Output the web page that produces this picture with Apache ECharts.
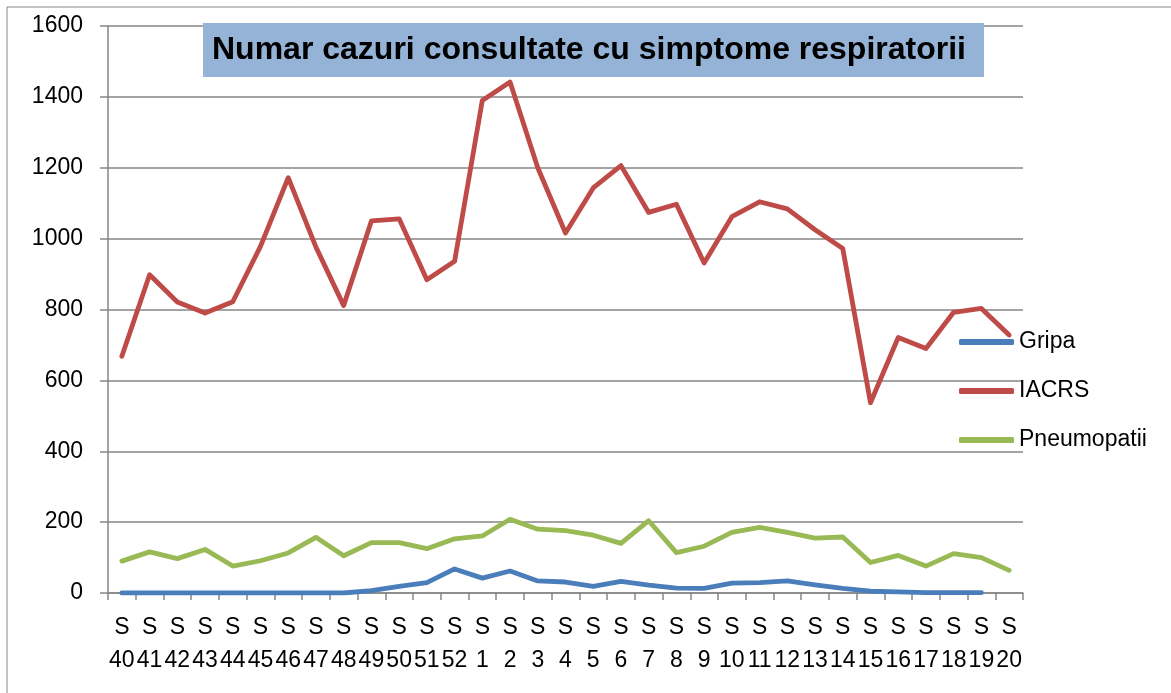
<!DOCTYPE html>
<html style="height: 100%">
<head>
    <meta charset="utf-8">
</head>
<body style="height: 100%; margin: 0; background: #fff">
<div id="container" style="width: 1171px; height: 693px"></div>

<script type="text/javascript" src="https://cdn.jsdelivr.net/npm/echarts@6/dist/echarts.min.js"></script>

<script type="text/javascript">
    // saptamanile S40..S52, S1..S20
    var weeks = ['S40', 'S41', 'S42', 'S43', 'S44', 'S45', 'S46', 'S47', 'S48', 'S49', 'S50', 'S51', 'S52',
                 'S1', 'S2', 'S3', 'S4', 'S5', 'S6', 'S7', 'S8', 'S9', 'S10', 'S11', 'S12', 'S13', 'S14',
                 'S15', 'S16', 'S17', 'S18', 'S19', 'S20'];

    var gripa = [0, 0, 0, 0, 0, 0, 0, 0, 0, 7, 19, 29, 68,
                 42, 62, 34, 31, 19, 33, 22, 14, 13, 28, 29, 34, 23, 13,
                 5, 3, 1, 1, 1, null];

    var iacrs = [668, 898, 821, 790, 822, 978, 1172, 976, 811, 1050, 1056, 884, 936,
                 1390, 1442, 1200, 1016, 1143, 1206, 1074, 1097, 931, 1062, 1104, 1084, 1025, 972,
                 537, 721, 690, 792, 803, 728];

    var pneumopatii = [90, 116, 97, 123, 76, 91, 113, 157, 105, 142, 142, 125, 153,
                       161, 208, 180, 176, 163, 140, 204, 114, 132, 171, 185, 171, 155, 158,
                       86, 106, 76, 111, 100, 64];

    var yTicks = { min: 0, max: 1600, interval: 200 };

    var seriesNames = ['Gripa', 'IACRS', 'Pneumopatii'];
    var colors = ['#4A7EBB', '#BE4B48', '#98B954'];

    var FONT = 'Liberation Sans';
    var GRAY = '#868686';

    var dom = document.getElementById('container');
    var myChart = echarts.init(dom, null, { renderer: 'canvas' });

    function lineSeries(name, data, color) {
        return {
            name: name,
            type: 'line',
            data: data,
            showSymbol: false,
            symbol: 'none',
            connectNulls: false,
            lineStyle: { color: color, width: 4.8, cap: 'round', join: 'round' },
            itemStyle: { color: color }
        };
    }

    var option = {
        animation: false,
        color: colors,
        textStyle: { fontFamily: FONT },
        graphic: [{
            type: 'rect',
            shape: { x: 7, y: 7, width: 1300, height: 900 },
            style: { fill: 'none', stroke: GRAY, lineWidth: 1 },
            z: -1
        }],
        title: {
            text: 'Numar cazuri consultate cu simptome respiratorii',
            left: 203,
            top: 23,
            backgroundColor: '#95B3D7',
            padding: [9, 18, 9, 9],
            textStyle: {
                fontFamily: FONT,
                fontWeight: 'bold',
                fontSize: 32,
                lineHeight: 36,
                color: '#000'
            }
        },
        legend: {
            orient: 'vertical',
            left: 954,
            top: 325,
            itemWidth: 55,
            itemHeight: 6,
            itemGap: 25,
            icon: 'roundRect',
            data: seriesNames,
            textStyle: { fontFamily: FONT, fontSize: 23, lineHeight: 24, color: '#000' }
        },
        grid: {
            left: 108,
            right: 148,
            top: 26,
            bottom: 100,
            containLabel: false
        },
        xAxis: {
            type: 'category',
            data: weeks,
            boundaryGap: true,
            axisLine: { show: true, lineStyle: { color: GRAY, width: 1.5 } },
            axisTick: { show: true, length: 7, interval: 0, lineStyle: { color: GRAY, width: 1.5 } },
            axisLabel: {
                interval: 0,
                margin: 18,
                fontFamily: FONT,
                fontSize: 23,
                lineHeight: 33,
                color: '#000',
                formatter: function (v) { return 'S\n' + v.slice(1); }
            }
        },
        yAxis: {
            type: 'value',
            min: yTicks.min,
            max: yTicks.max,
            interval: yTicks.interval,
            axisLine: { show: true, lineStyle: { color: GRAY, width: 1.5 } },
            axisTick: { show: true, length: 8, lineStyle: { color: GRAY, width: 1.5 } },
            splitLine: { show: true, lineStyle: { color: GRAY, width: 1.5 } },
            axisLabel: {
                margin: 25,
                fontFamily: FONT,
                fontSize: 23,
                color: '#000',
                formatter: function (v) { return String(v); }
            }
        },
        series: [
            lineSeries(seriesNames[0], gripa, colors[0]),
            lineSeries(seriesNames[1], iacrs, colors[1]),
            lineSeries(seriesNames[2], pneumopatii, colors[2])
        ]
    };

    myChart.setOption(option);
</script>
</body>
</html>
